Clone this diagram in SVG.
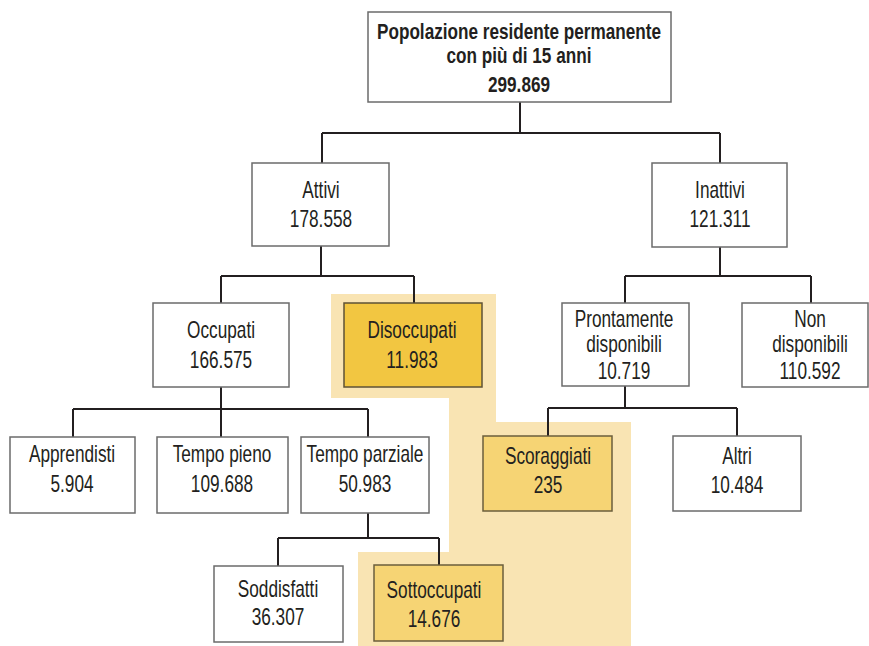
<svg xmlns="http://www.w3.org/2000/svg" width="869" height="646" viewBox="0 0 869 646">
<style>
  .box { fill: #ffffff; stroke: #6b6b6b; stroke-width: 1.5; }
  .dis { fill: #f2c641; stroke: #5e5236; stroke-width: 1.5; }
  .hl { fill: #f6d474; stroke: #6b5e3c; stroke-width: 1.5; }
  .bg { fill: #f9e4b3; }
  .t { font-family: "Liberation Sans", Arial, sans-serif; font-size: 23px; fill: #231f20; text-anchor: middle; }
  .b { font-weight: bold; font-size: 22px; }
  .c { fill: none; stroke: #231f20; stroke-width: 2; }
</style>
<rect x="0" y="0" width="869" height="646" fill="#ffffff"/>
<g id="highlight">
  <polygon class="bg" points="331,294 496,294 496,422 631,422 631,646 358,646 358,552 449,552 449,398 331,398"/>
</g>
<g id="connectors">
  <path class="c" d="M520,102 V133 M322,133 H720 M322,133 V163 M720,133 V163"/>
  <path class="c" d="M321,246 V276 M221,276 H414 M221,276 V303 M414,276 V303"/>
  <path class="c" d="M720,247 V276 M625,276 H811 M625,276 V303 M811,276 V303"/>
  <path class="c" d="M221,387 V409 M73,409 H368 M73,409 V437 M221,409 V437 M368,409 V437"/>
  <path class="c" d="M625,386 V408 M548,408 H737 M548,408 V436 M737,408 V436"/>
  <path class="c" d="M368,513 V538 M278,538 H439 M278,538 V566 M439,538 V565"/>
</g>
<g id="root">
  <rect class="box" x="368" y="12" width="303" height="90"/>
  <text class="t b" transform="translate(519,39) scale(0.78,1)"><tspan x="0" y="0">Popolazione residente permanente</tspan><tspan x="0" y="24">con più di 15 anni</tspan><tspan x="0" y="53">299.869</tspan></text>
</g>
<g id="attivi">
  <rect class="box" x="252" y="163" width="137" height="83"/>
  <text class="t" transform="translate(321,198) scale(0.75,1)"><tspan x="0" y="0">Attivi</tspan><tspan x="0" y="29">178.558</tspan></text>
</g>
<g id="inattivi">
  <rect class="box" x="652" y="163" width="135" height="84"/>
  <text class="t" transform="translate(720,198) scale(0.75,1)"><tspan x="0" y="0">Inattivi</tspan><tspan x="0" y="29">121.311</tspan></text>
</g>
<g id="occupati">
  <rect class="box" x="153" y="303" width="136" height="84"/>
  <text class="t" transform="translate(221,338) scale(0.75,1)"><tspan x="0" y="0">Occupati</tspan><tspan x="0" y="30">166.575</tspan></text>
</g>
<g id="disoccupati">
  <rect class="dis" x="344" y="303" width="138" height="84"/>
  <text class="t" transform="translate(412,338) scale(0.75,1)"><tspan x="0" y="0">Disoccupati</tspan><tspan x="0" y="30">11.983</tspan></text>
</g>
<g id="prontamente">
  <rect class="box" x="562" y="303" width="127" height="83"/>
  <text class="t" transform="translate(624,327) scale(0.75,1)"><tspan x="0" y="0">Prontamente</tspan><tspan x="0" y="25">disponibili</tspan><tspan x="0" y="52">10.719</tspan></text>
</g>
<g id="nondisponibili">
  <rect class="box" x="742" y="303" width="126" height="84"/>
  <text class="t" transform="translate(810,327) scale(0.75,1)"><tspan x="0" y="0">Non</tspan><tspan x="0" y="25">disponibili</tspan><tspan x="0" y="52">110.592</tspan></text>
</g>
<g id="apprendisti">
  <rect class="box" x="10" y="437" width="125" height="76"/>
  <text class="t" transform="translate(72,462) scale(0.75,1)"><tspan x="0" y="0">Apprendisti</tspan><tspan x="0" y="30">5.904</tspan></text>
</g>
<g id="tempopieno">
  <rect class="box" x="157" y="437" width="131" height="76"/>
  <text class="t" transform="translate(222,462) scale(0.75,1)"><tspan x="0" y="0">Tempo pieno</tspan><tspan x="0" y="30">109.688</tspan></text>
</g>
<g id="tempoparziale">
  <rect class="box" x="301" y="437" width="128" height="76"/>
  <text class="t" transform="translate(365,462) scale(0.75,1)"><tspan x="0" y="0">Tempo parziale</tspan><tspan x="0" y="30">50.983</tspan></text>
</g>
<g id="scoraggiati">
  <rect class="hl" x="483" y="436" width="129" height="75"/>
  <text class="t" transform="translate(548,464) scale(0.75,1)"><tspan x="0" y="0">Scoraggiati</tspan><tspan x="0" y="29">235</tspan></text>
</g>
<g id="altri">
  <rect class="box" x="673" y="436" width="128" height="75"/>
  <text class="t" transform="translate(737,464) scale(0.75,1)"><tspan x="0" y="0">Altri</tspan><tspan x="0" y="29">10.484</tspan></text>
</g>
<g id="soddisfatti">
  <rect class="box" x="214" y="566" width="129" height="76"/>
  <text class="t" transform="translate(278,597) scale(0.75,1)"><tspan x="0" y="0">Soddisfatti</tspan><tspan x="0" y="28">36.307</tspan></text>
</g>
<g id="sottoccupati">
  <rect class="hl" x="374" y="565" width="129" height="76"/>
  <text class="t" transform="translate(434,598) scale(0.75,1)"><tspan x="0" y="0">Sottoccupati</tspan><tspan x="0" y="29">14.676</tspan></text>
</g>
</svg>
